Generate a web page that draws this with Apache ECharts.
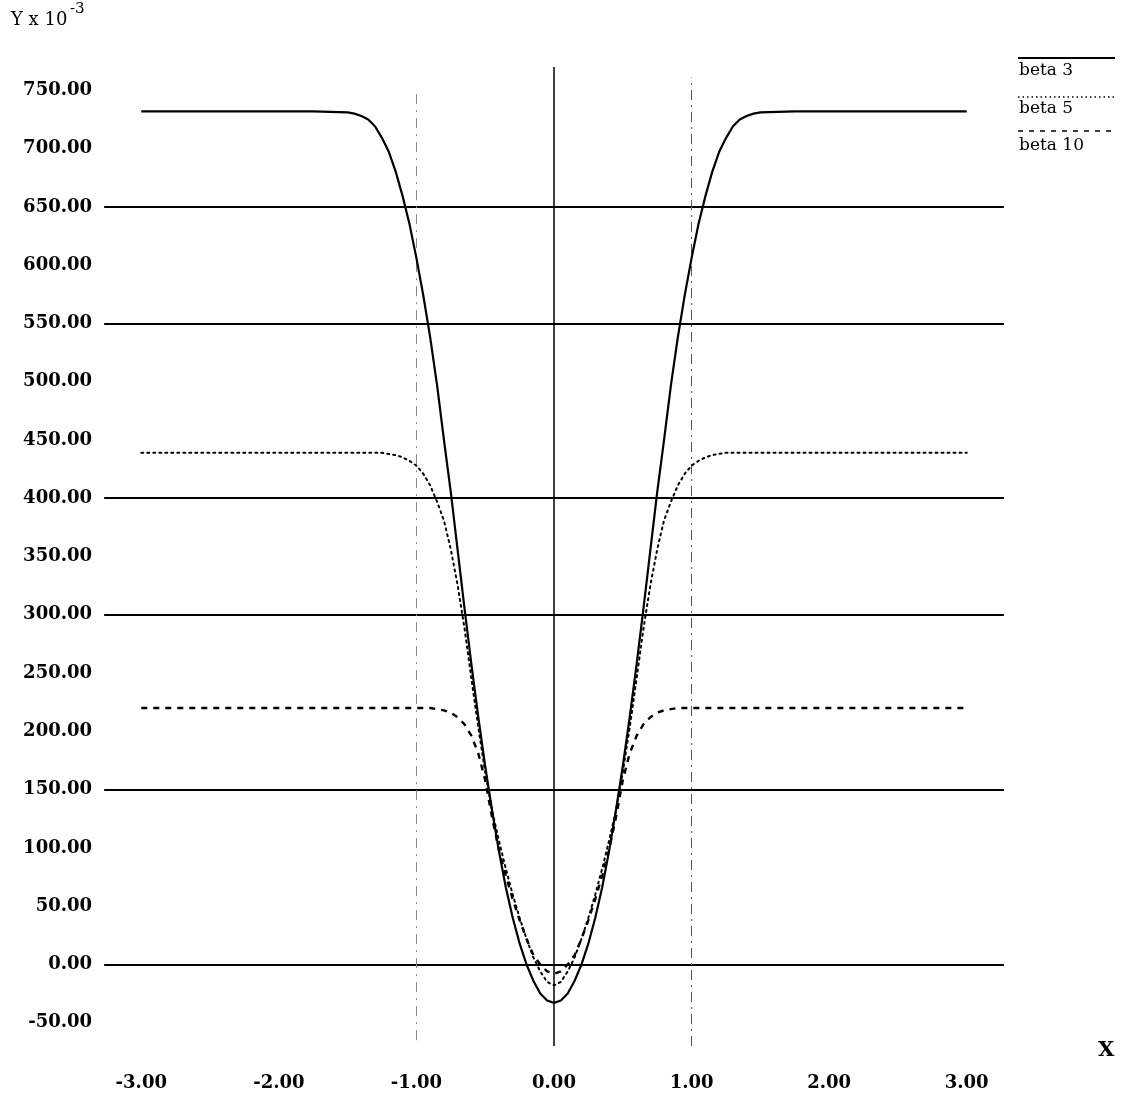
<!DOCTYPE html>
<html>
<head>
<meta charset="utf-8">
<script src="https://cdn.jsdelivr.net/npm/echarts@6/dist/echarts.min.js"></script>
<style>
html,body{margin:0;padding:0;background:#fff;}
#chart{width:1121px;height:1093px;}
</style>
</head>
<body>
<div id="chart"></div>
<script>
// ---- data ----
const seriesNames = ['beta 3', 'beta 5', 'beta 10'];
const xValues = [-3.0, -2.5, -2.0, -1.75,
  -1.5, -1.45, -1.4, -1.35, -1.3, -1.25, -1.2, -1.15, -1.1, -1.05, -1.0,
  -0.95, -0.9, -0.85, -0.8, -0.75, -0.7, -0.65, -0.6, -0.55, -0.5,
  -0.45, -0.4, -0.35, -0.3, -0.25, -0.2, -0.15, -0.1, -0.05, 0,
  0.05, 0.1, 0.15, 0.2, 0.25, 0.3, 0.35, 0.4, 0.45, 0.5,
  0.55, 0.6, 0.65, 0.7, 0.75, 0.8, 0.85, 0.9, 0.95, 1.0,
  1.05, 1.1, 1.15, 1.2, 1.25, 1.3, 1.35, 1.4, 1.45, 1.5,
  1.75, 2.0, 2.5, 3.0];
const beta3 = [732, 732, 732, 732,
  731, 730, 728, 725, 719, 709, 697, 680, 659, 635, 606,
  574, 538, 497, 450, 405, 355, 305, 257, 212, 170,
  132, 97, 66, 40, 18, 0, -14, -25, -31, -33,
  -31, -25, -14, 0, 18, 40, 66, 97, 132, 170,
  212, 257, 305, 355, 405, 450, 497, 538, 574, 606,
  635, 659, 680, 697, 709, 719, 725, 728, 730, 731,
  732, 732, 732, 732];
const beta5 = [439, 439, 439, 439,
  439, 439, 439, 439, 439, 439, 438, 437, 435, 432, 428,
  421, 411, 397, 381, 356, 325, 288, 245, 203, 165,
  132, 106, 82, 60, 40, 22, 6, -6, -15, -18,
  -15, -6, 6, 22, 40, 60, 82, 106, 132, 165,
  203, 245, 288, 325, 356, 381, 397, 411, 421, 428,
  432, 435, 437, 438, 439, 439, 439, 439, 439, 439,
  439, 439, 439, 439];
const beta10 = [220, 220, 220, 220,
  220, 220, 220, 220, 220, 220, 220, 220, 220, 220, 220,
  220, 220, 219, 218, 216, 212, 206, 196, 181, 158,
  126, 98, 76, 56, 38, 22, 8, 0, -6, -8,
  -6, 0, 8, 22, 38, 56, 76, 98, 126, 158,
  181, 196, 206, 212, 216, 218, 219, 220, 220, 220,
  220, 220, 220, 220, 220, 220, 220, 220, 220, 220,
  220, 220, 220, 220];
const hGridValues = [650, 550, 400, 300, 150, 0];
const xTickLabels = [-3, -2, -1, 0, 1, 2, 3];
const yTickLabels = [-50, 0, 50, 100, 150, 200, 250, 300, 350, 400, 450, 500, 550, 600, 650, 700, 750];

const FONT = '"DejaVu Serif", "Liberation Serif", serif';
const toPairs = arr => xValues.map((x, i) => [x, arr[i]]);

const chart = echarts.init(document.getElementById('chart'), null, {renderer: 'canvas'});

const hLines = hGridValues.map(v => [
  {coord: [-3.27, v], lineStyle: {color: '#000', width: 2, type: 'solid'}},
  {coord: [3.27, v]}
]);
const vLines = [
  [{coord: [0, -70], lineStyle: {color: '#000', width: 1.5, type: 'solid'}}, {coord: [0, 770]}],
  [{coord: [1, -70], lineStyle: {color: '#555', width: 1, type: [10, 5, 2, 5]}}, {coord: [1, 761]}],
  [{coord: [-1, -65], lineStyle: {color: '#888', width: 1, type: [10, 6, 2, 6]}}, {coord: [-1, 752]}]
];

const option = {
  backgroundColor: '#fff',
  animation: false,
  grid: {left: 100, top: 67, width: 908, height: 979, containLabel: false},
  xAxis: {
    type: 'value', min: -3.3, max: 3.3, interval: 0.1,
    axisLine: {show: false}, axisTick: {show: false}, splitLine: {show: false},
    axisLabel: {
      margin: 28, color: '#000', fontFamily: FONT, fontSize: 18, fontWeight: 'bold',
      formatter: v => {
        const r = Math.round(v);
        return (Math.abs(v - r) < 1e-6 && xTickLabels.indexOf(r) >= 0) ? r.toFixed(2) : '';
      }
    }
  },
  yAxis: {
    type: 'value', min: -70, max: 770, interval: 10,
    axisLine: {show: false}, axisTick: {show: false}, splitLine: {show: false},
    axisLabel: {
      margin: 8, color: '#000', fontFamily: FONT, fontSize: 18, fontWeight: 'bold',
      formatter: v => {
        const r = Math.round(v);
        return yTickLabels.indexOf(r) >= 0 ? r.toFixed(2) : '';
      }
    }
  },
  series: [
    {
      name: seriesNames[0], type: 'line', data: toPairs(beta3), showSymbol: false,
      smooth: false, z: 5,
      lineStyle: {color: '#000', width: 2.2, type: 'solid', join: 'round'},
      markLine: {silent: true, symbol: 'none', label: {show: false}, data: hLines.concat(vLines), z: 1}
    },
    {
      name: seriesNames[1], type: 'line', data: toPairs(beta5), showSymbol: false,
      smooth: false, z: 4,
      lineStyle: {color: '#000', width: 2, type: [2, 4], cap: 'round'}
    },
    {
      name: seriesNames[2], type: 'line', data: toPairs(beta10), showSymbol: false,
      smooth: false, z: 4,
      lineStyle: {color: '#000', width: 2.4, type: [6, 6]}
    }
  ],
  graphic: [
    {type: 'text', left: 11, top: 11, style: {text: 'Y x 10', font: '18px ' + FONT, fill: '#000'}},
    {type: 'text', left: 70, top: 2, style: {text: '-3', font: '15px ' + FONT, fill: '#000'}},
    {type: 'text', left: 1098, top: 1040, style: {text: 'X', font: 'bold 21px ' + FONT, fill: '#000'}},
    {type: 'line', shape: {x1: 1018, y1: 58, x2: 1115, y2: 58}, style: {stroke: '#000', lineWidth: 2}},
    {type: 'text', left: 1019, top: 62, style: {text: seriesNames[0], font: '17px ' + FONT, fill: '#000'}},
    {type: 'line', shape: {x1: 1018, y1: 97, x2: 1117, y2: 97}, style: {stroke: '#000', lineWidth: 1.5, lineDash: [1.5, 3]}},
    {type: 'text', left: 1019, top: 100, style: {text: seriesNames[1], font: '17px ' + FONT, fill: '#000'}},
    {type: 'line', shape: {x1: 1018, y1: 131, x2: 1117, y2: 131}, style: {stroke: '#000', lineWidth: 1.5, lineDash: [5, 6]}},
    {type: 'text', left: 1019, top: 137, style: {text: seriesNames[2], font: '17px ' + FONT, fill: '#000'}}
  ]
};
chart.setOption(option);
</script>
</body>
</html>
